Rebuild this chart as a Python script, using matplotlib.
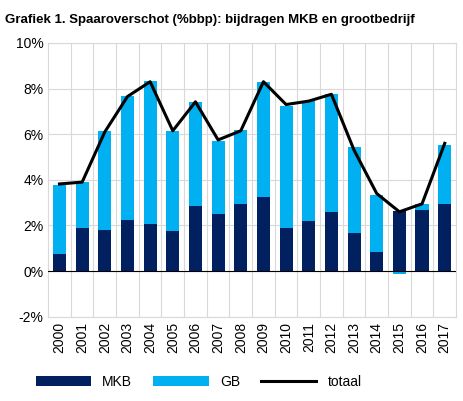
import matplotlib
matplotlib.use("Agg")
import matplotlib.pyplot as plt
import numpy as np

plt.rcParams['font.family'] = ['Liberation Sans', 'DejaVu Sans']

years = [str(y) for y in range(2000, 2018)]
mkb = [0.76, 1.88, 1.79, 2.23, 2.05, 1.76, 2.87, 2.52, 2.96, 3.27, 1.88, 2.18, 2.61, 1.67, 0.85, 2.64, 2.70, 2.92]
gb = [3.01, 2.01, 4.34, 5.44, 6.28, 4.37, 4.52, 3.18, 3.21, 5.01, 5.36, 5.27, 5.16, 3.78, 2.49, -0.12, 0.25, 2.61]
totaal = [3.82, 3.9, 6.1, 7.65, 8.3, 6.15, 7.42, 5.75, 6.15, 8.3, 7.3, 7.45, 7.75, 5.3, 3.4, 2.6, 2.95, 5.6]

fig = plt.figure(figsize=(4.63, 4.01), dpi=100)
ax = fig.add_axes([0.104, 0.21, 0.881, 0.683])
x = np.arange(len(years))
gb_bottom = [m if g >= 0 else 0 for m, g in zip(mkb, gb)]
b1 = ax.bar(x, mkb, width=0.58, color='#002060', label='MKB', zorder=3)
b2 = ax.bar(x, gb, width=0.58, bottom=gb_bottom, color='#00B0F0', label='GB', zorder=3)
l1, = ax.plot(x, totaal, color='black', lw=2.2, label='totaal', zorder=4)

ax.set_xlim(-0.5, len(years) - 0.5)
ax.set_ylim(-2, 10)
ax.set_yticks(range(-2, 11, 2))
ax.set_yticklabels([f'{v}%' for v in range(-2, 11, 2)], fontsize=10)
ax.set_xticks(x)
ax.set_xticklabels(years, rotation=90, fontsize=10)
ax.set_xticks(x[:-1] + 0.5, minor=True)
ax.grid(True, which='minor', axis='x', color='#d9d9d9', lw=0.8, zorder=0)
ax.grid(True, which='major', axis='y', color='#d9d9d9', lw=0.8, zorder=0)
ax.tick_params(which='both', length=0)
ax.axhline(0, color='black', lw=0.8, zorder=5)
for s in ax.spines.values():
    s.set_color('#d9d9d9')

fig.text(0.01, 0.965, 'Grafiek 1. Spaaroverschot (%bbp): bijdragen MKB en grootbedrijf',
         fontsize=9.5, fontweight='bold', va='top')
fig.legend([b1, b2, l1], ['MKB', 'GB', 'totaal'], loc='lower left',
           bbox_to_anchor=(0.05, 0.0), ncol=3, frameon=False,
           fontsize=10, handlelength=4, columnspacing=1.5)
fig.savefig('out.png', dpi=100)
